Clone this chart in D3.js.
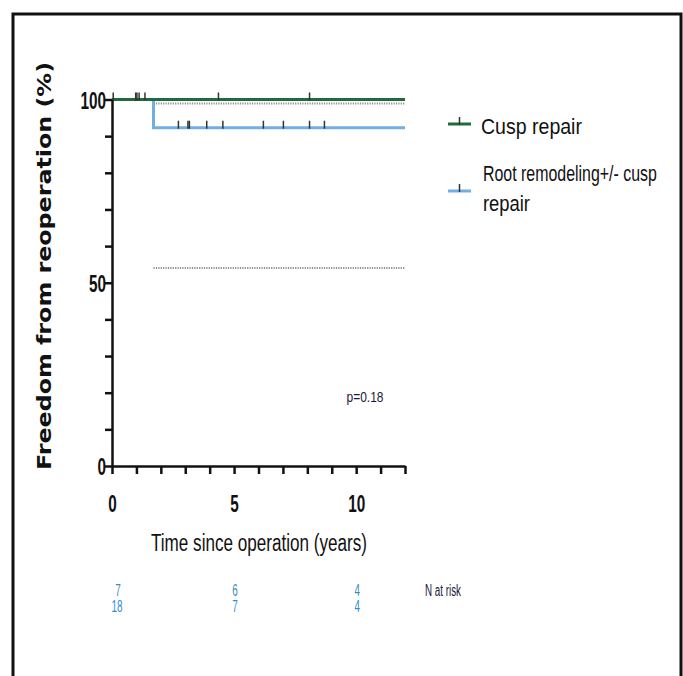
<!DOCTYPE html>
<html>
<head>
<meta charset="utf-8">
<script src="https://cdn.jsdelivr.net/npm/d3@7"></script>
<style>
  body { margin: 0; background: #fff; }
  text { font-family: "Liberation Sans", Arial, sans-serif; }
</style>
</head>
<body>
<svg id="chart" width="683" height="676"></svg>
<script>
// data
const groups = ["Cusp repair", "Root remodeling+/- cusp repair"]
const colors = ["#1f6b3c", "#72aee2"]

// step points [time, survival %]
const cuspSteps = [[0, 100], [12, 100]]
const rootSteps = [[0, 100], [1.7, 100], [1.7, 92.3], [12, 92.3]]

const cuspCensor = [0.05, 0.97, 1.02, 1.11, 1.35, 4.36, 8.09]
const rootCensor = [2.72, 3.11, 3.17, 3.88, 4.54, 6.2, 7.02, 8.09, 8.7]

// 95% CI of root group (dotted)
const ciUpper = [[1.7, 98.9], [12, 98.9]]
const ciLower = [[1.7, 54], [12, 54]]

const riskTimes = [0, 5, 10]
const riskCusp = [7, 6, 4]
const riskRoot = [18, 7, 4]

const xTicks = d3.range(0, 13, 1)
const xLabels = [0, 5, 10]
const yTicks = d3.range(0, 101, 10)
const yLabels = [0, 50, 100]

const svg = d3.select("#chart")

// the fonts on hand are wide, the figure uses a narrow face: squeeze with textLength
function narrow(sel, perChar){
    sel.attr("textLength", d => String(d).length * perChar)
       .attr("lengthAdjust", "spacingAndGlyphs")
}

// outer frame
svg.append("rect")
    .attr("x", 13).attr("y", 14)
    .attr("width", 668).attr("height", 700)
    .attr("fill", "none")
    .attr("stroke", "#111")
    .attr("stroke-width", 3)

const x = d3.scaleLinear().domain([0, 12]).range([112, 405])
const y = d3.scaleLinear().domain([0, 100]).range([466, 99.5])

function drawAxes(){
    const gx = svg.append("g")
        .attr("transform", `translate(0, ${y(0)})`)
        .call(d3.axisBottom(x).tickValues(xTicks).tickSize(8).tickSizeOuter(0)
            .tickFormat(d => xLabels.includes(d) ? d : ""))
    const gy = svg.append("g")
        .attr("transform", `translate(${x(0)}, 0)`)
        .call(d3.axisLeft(y).tickValues(yTicks).tickSize(7).tickSizeOuter(0)
            .tickFormat(d => yLabels.includes(d) ? d : ""))

    svg.selectAll(".domain, .tick line")
        .attr("stroke", "#111")
        .attr("stroke-width", 2.5)
    gx.selectAll("text")
        .attr("dy", 0).attr("y", 46)
        .style("font-size", "24px").style("font-weight", "bold").attr("fill", "#111")
        .filter(d => xLabels.includes(d))
        .call(narrow, 8.5)
    gy.selectAll("text")
        .attr("x", -6).attr("dy", "0.36em")
        .style("font-size", "24px").style("font-weight", "bold").attr("fill", "#111")
        .filter(d => yLabels.includes(d))
        .call(narrow, 8.5)
}

function drawCurve(steps, censor, level, color){
    const line = d3.line().x(d => x(d[0])).y(d => y(d[1]))
    svg.append("path")
        .datum(steps)
        .attr("fill", "none")
        .attr("stroke", color)
        .attr("stroke-width", 3)
        .attr("d", line)
    svg.append("g").selectAll("line")
        .data(censor)
        .join("line")
        .attr("x1", d => x(d)).attr("x2", d => x(d))
        .attr("y1", y(level) + 1).attr("y2", y(level) - 7)
        .attr("stroke", "#333")
        .attr("stroke-width", 1.5)
}

function drawCI(pts){
    svg.append("path")
        .datum(pts)
        .attr("fill", "none")
        .attr("stroke", "#8f8f8f")
        .attr("stroke-width", 2)
        .attr("stroke-dasharray", "1.2 1.2")
        .attr("d", d3.line().x(d => x(d[0])).y(d => y(d[1])))
}

drawCI(ciUpper)
drawCI(ciLower)
drawCurve(rootSteps, rootCensor, 92.3, colors[1])
drawCurve(cuspSteps, cuspCensor, 100, colors[0])
drawAxes()

// axis titles
svg.append("text")
    .attr("transform", "translate(51, 266) rotate(-90)")
    .attr("text-anchor", "middle")
    .attr("textLength", 408)
    .attr("lengthAdjust", "spacingAndGlyphs")
    .style("font-family", "'DejaVu Sans', sans-serif")
    .style("font-weight", "bold")
    .style("font-size", "20px")
    .attr("fill", "#111")
    .text("Freedom from reoperation (%)")

svg.append("text")
    .attr("x", 259).attr("y", 551)
    .attr("text-anchor", "middle")
    .attr("textLength", 216)
    .attr("lengthAdjust", "spacingAndGlyphs")
    .style("font-size", "23px")
    .attr("fill", "#111")
    .text("Time since operation (years)")

// legend
const legend = svg.append("g")
const legendY = [124, 191]
legend.selectAll("g")
    .data(groups)
    .join("g")
    .each(function(d, i){
        const g = d3.select(this)
        g.append("line")
            .attr("x1", 448).attr("x2", 471)
            .attr("y1", legendY[i]).attr("y2", legendY[i])
            .attr("stroke", colors[i]).attr("stroke-width", 3)
        g.append("line")
            .attr("x1", 459.5).attr("x2", 459.5)
            .attr("y1", legendY[i] + 1).attr("y2", legendY[i] - 7)
            .attr("stroke", "#333").attr("stroke-width", 1.5)
    })
// legend labels, the second one wrapped on two lines as in the figure;
// squeezed sideways with a transform so the box stays inside the frame
const legendLines = [
    {text: "Cusp repair", x: 481, y: 134, w: 101},
    {text: "Root remodeling+/- cusp", x: 483, y: 181, w: 174},
    {text: "repair", x: 483, y: 211, w: 47}
]
legend.selectAll("text")
    .data(legendLines)
    .join("text")
    .style("font-size", "22px").attr("fill", "#111")
    .text(d => d.text)
    .attr("transform", function(d){
        const k = d.w / this.getComputedTextLength()
        return `translate(${d.x}, ${d.y}) scale(${k}, 1)`
    })

// p value
svg.append("text")
    .attr("x", 365).attr("y", 402)
    .attr("text-anchor", "middle")
    .attr("textLength", 37).attr("lengthAdjust", "spacingAndGlyphs")
    .style("font-size", "15px").attr("fill", "#1a1a3a")
    .text("p=0.18")

// numbers at risk
svg.append("g").selectAll("text")
    .data(riskCusp)
    .join("text")
    .attr("x", (d, i) => x(riskTimes[i]) + (i == 0 ? 6 : 1))
    .attr("y", 596)
    .attr("text-anchor", "middle")
    .style("font-size", "16px").attr("fill", "#3b8db5")
    .call(narrow, 5.5)
    .text(d => d)
svg.append("g").selectAll("text")
    .data(riskRoot)
    .join("text")
    .attr("x", (d, i) => x(riskTimes[i]) + (i == 0 ? 5 : 1))
    .attr("y", 612)
    .attr("text-anchor", "middle")
    .style("font-size", "16px").attr("fill", "#2e8ede")
    .call(narrow, 5.5)
    .text(d => d)
svg.append("text")
    .attr("x", 425).attr("y", 596)
    .attr("textLength", 36).attr("lengthAdjust", "spacingAndGlyphs")
    .style("font-size", "16px").attr("fill", "#1a1a3a")
    .text("N at risk")
</script>
</body>
</html>
